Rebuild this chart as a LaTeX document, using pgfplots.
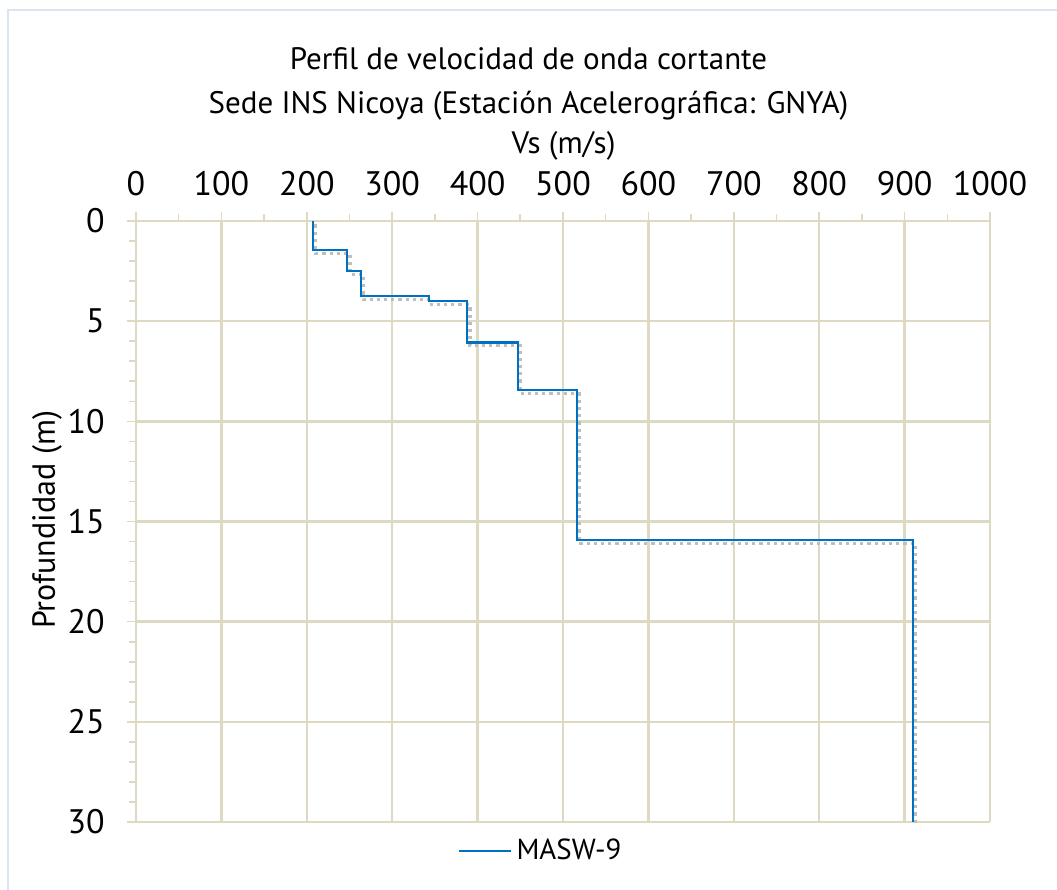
\documentclass[border=0pt]{standalone}
\usepackage{pgfplots}
\pgfplotsset{compat=1.18}
\usepackage{fontspec}
\setmainfont{PT Sans}
\definecolor{gridtan}{RGB}{221,217,195}
\definecolor{lineblue}{RGB}{0,112,192}
\definecolor{frameblue}{RGB}{218,228,245}
\begin{document}
\begin{tikzpicture}
\path[use as bounding box] (0,0) rectangle (528.5pt,445pt);
\draw[frameblue, line width=1pt] (3.75pt,-10pt) -- (3.75pt,439.75pt) -- (540pt,439.75pt);
\begin{axis}[
  at={(68pt,34pt)}, anchor=south west,
  scale only axis, width=427pt, height=300.5pt,
  xmin=0, xmax=1000, ymin=0, ymax=30,
  y dir=reverse,
  axis x line=top, axis y line=left,
  axis line style={-, gridtan, line width=1.2pt},
  xtick={0,100,...,1000}, minor x tick num=1,
  ytick={0,5,...,30}, minor y tick num=4,
  grid=major, major grid style={gridtan, line width=1.2pt},
  tick align=outside,
  major tick length=4.5pt, minor tick length=3.5pt,
  tick style={gridtan, line width=0.8pt},
  /pgf/number format/assume math mode=true,
  /pgf/number format/1000 sep={},
  xticklabel style={font=\fontsize{17}{20}\selectfont, anchor=base, inner sep=0pt, yshift=8.3pt},
  yticklabel style={font=\fontsize{17}{20}\selectfont, anchor=east, inner sep=0pt, xshift=-11pt},
  legend style={draw=none, fill=none, at={(0.377,-0.048)}, anchor=west, inner sep=0pt,
    nodes={inner xsep=2pt},
    font=\fontsize{14.5}{18}\selectfont},
  legend cell align=left,
  legend image code/.code={\draw[#1] (0pt,0pt) -- (26pt,0pt);},
]
\addplot[gray!50, dotted, line width=1.6pt, xshift=1.3pt, yshift=-1.7pt, forget plot] coordinates {
(207,0) (207,1.45) (247.5,1.45) (247.5,2.5) (263.5,2.5) (263.5,3.76) (343,3.76) (343,4.0) (388,4.0) (388,6.06) (447,6.06) (447,8.44) (516,8.44) (516,15.93) (909.5,15.93) (909.5,30)
};
\addplot[lineblue, line width=1.1pt] coordinates {
(207,0) (207,1.45) (247.5,1.45) (247.5,2.5) (263.5,2.5) (263.5,3.76) (343,3.76) (343,4.0) (388,4.0) (388,6.06) (447,6.06) (447,8.44) (516,8.44) (516,15.93) (909.5,15.93) (909.5,30)
};
\addlegendentry{MASW-9}
\end{axis}
\node[anchor=base, font=\fontsize{15.5}{20}\selectfont, inner sep=0pt] at (264.25pt,410pt) {Perfil de velocidad de onda cortante};
\node[anchor=base, font=\fontsize{15.5}{20}\selectfont, inner sep=0pt] at (264.25pt,388.3pt) {Sede INS Nicoya (Estación Acelerográfica: GNYA)};
\node[anchor=base, font=\fontsize{15.5}{20}\selectfont, inner sep=0pt] at (281.75pt,368pt) {Vs (m/s)};
\node[rotate=90, font=\fontsize{16}{20}\selectfont, inner sep=0pt] at (23.5pt,185pt) {Profundidad (m)};
\end{tikzpicture}
\end{document}
